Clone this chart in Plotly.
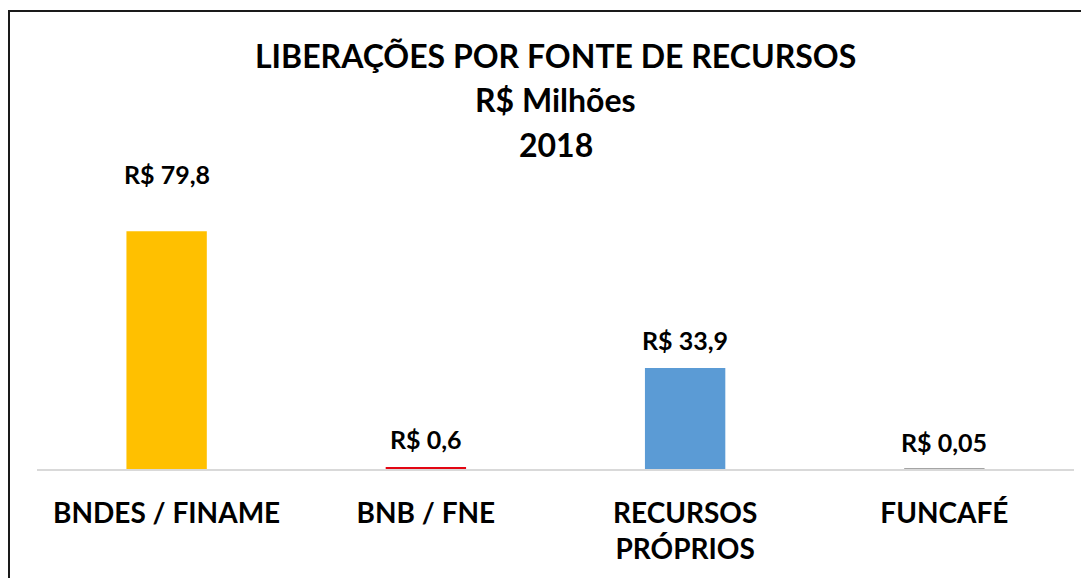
import plotly.graph_objects as go

categories = ["BNDES / FINAME", "BNB / FNE", "RECURSOS<br>PRÓPRIOS", "FUNCAFÉ"]
values = [79.8, 0.6, 33.9, 0.05]
value_labels = ["R$ 79,8", "R$ 0,6", "R$ 33,9", "R$ 0,05"]
label_shift = [57, 28, 28, 27]
colors = ["#FFC000", "#E30613", "#5B9BD5", "#A5A5A5"]
title_lines = ["LIBERAÇÕES POR FONTE DE RECURSOS", "R$ Milhões", "2018"]

FONT = "Lato"
W, H = 1081, 570
L, R, T, B = 29, 15, 163, 109
plot_h = H - T - B

fig = go.Figure(go.Bar(x=categories, y=values, marker_color=colors,
                       marker_line_width=0, width=0.31))

for c, v, t, s in zip(categories, values, value_labels, label_shift):
    fig.add_annotation(x=c, y=v, text="<b>%s</b>" % t, showarrow=False,
                       yanchor="middle", yshift=s,
                       font=dict(family=FONT, size=25, color="#000000"))

for i, t in enumerate(title_lines):
    py = 48 + 44 * i
    fig.add_annotation(x=0.5, xref="paper", yref="paper", y=(H - B - py) / plot_h,
                       text="<b>%s</b>" % t, showarrow=False, yanchor="middle",
                       font=dict(family=FONT, size=32, color="#000000"))

fig.update_layout(
    width=W, height=H,
    margin=dict(l=L, r=R, t=T, b=B, autoexpand=False),
    paper_bgcolor="white", plot_bgcolor="white",
    showlegend=False,
    xaxis=dict(showline=True, linecolor="#D9D9D9", linewidth=2, ticks="",
               tickfont=dict(family=FONT, size=28, color="#000000"),
               ticklabelstandoff=18,
               tickprefix="<b>", ticksuffix="</b>", showgrid=False),
    yaxis=dict(range=[0, 100], visible=False, showgrid=False),
)

fig.add_shape(type="rect", xref="paper", yref="paper",
              x0=(1 - L) / (W - L - R), x1=1.2, y0=-1.0, y1=(H - B - 3) / plot_h,
              line=dict(color="#1a1a1a", width=2), fillcolor="rgba(0,0,0,0)", layer="above")

fig.write_html("out.html")
